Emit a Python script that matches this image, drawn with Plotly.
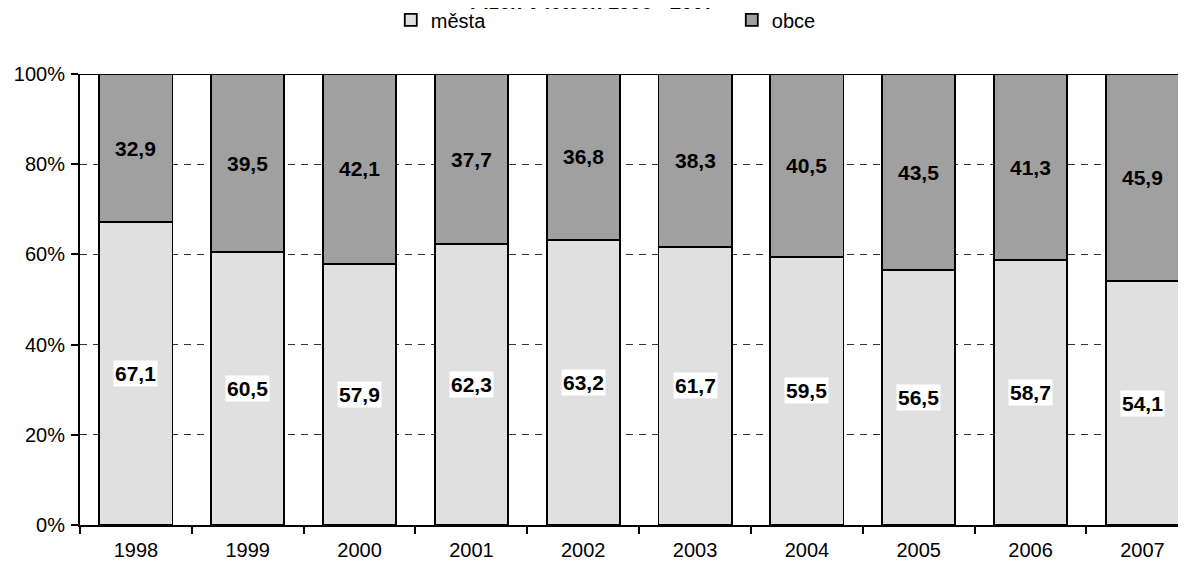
import plotly.graph_objects as go

years = ["1998", "1999", "2000", "2001", "2002", "2003", "2004", "2005", "2006", "2007"]
mesta = [67.1, 60.5, 57.9, 62.3, 63.2, 61.7, 59.5, 56.5, 58.7, 54.1]
obce = [32.9, 39.5, 42.1, 37.7, 36.8, 38.3, 40.5, 43.5, 41.3, 45.9]
y_ticks = [0, 20, 40, 60, 80, 100]
y_ticktext = ["0%", "20%", "40%", "60%", "80%", "100%"]
title_text = "Plzeň v letech 1998 - 2007"

FONT = "Liberation Sans, Arial, sans-serif"
xpos = list(range(len(years)))

fig = go.Figure()
fig.add_trace(go.Bar(
    x=xpos, y=mesta, name="města", width=0.655,
    marker=dict(color="#E0E0E0", line=dict(color="black", width=1.8)),
))
fig.add_trace(go.Bar(
    x=xpos, y=obce, name="obce", width=0.655,
    marker=dict(color="#A0A0A0", line=dict(color="black", width=1.8)),
))

annotations = []
for i, (m, o) in enumerate(zip(mesta, obce)):
    annotations.append(dict(
        x=i, y=m / 2, xref="x", yref="y", text=f"{m:.1f}".replace(".", ","),
        showarrow=False, bgcolor="white", borderpad=1,
        font=dict(family=FONT, size=21, color="black", weight="bold"),
    ))
    annotations.append(dict(
        x=i, y=m + o / 2, xref="x", yref="y", text=f"{o:.1f}".replace(".", ","),
        showarrow=False,
        font=dict(family=FONT, size=21, color="black", weight="bold"),
    ))
annotations.append(dict(
    x=0.463, y=1.13, xref="paper", yref="paper", xanchor="center", yanchor="bottom",
    text=title_text, showarrow=False,
    font=dict(family=FONT, size=20, color="black", weight="bold"),
))

fig.update_layout(
    barmode="stack",
    width=1178, height=557,
    margin=dict(l=72, r=0, t=66, b=40, autoexpand=False),
    paper_bgcolor="white", plot_bgcolor="white",
    font=dict(family=FONT, size=20, color="black"),
    showlegend=True,
    legend=dict(
        orientation="h", x=0.281, y=1.12, xanchor="left", yanchor="middle",
        entrywidth=296, entrywidthmode="pixels", traceorder="normal",
        font=dict(family=FONT, size=20, color="black"),
        itemclick=False, bgcolor="rgba(0,0,0,0)",
    ),
    annotations=annotations,
    shapes=[dict(type="line", xref="paper", yref="y", x0=0, x1=1, y0=100, y1=100,
                 line=dict(color="black", width=2), layer="above")],
    xaxis=dict(
        range=[-0.5, 9.39], tickmode="array", tickvals=xpos, ticktext=years,
        ticks="", showgrid=False, zeroline=False,
        showline=True, linecolor="black", linewidth=2,
        tickfont=dict(family=FONT, size=20, color="black"),
        ticklabelstandoff=6,
        minor=dict(tick0=-0.5, dtick=1, ticks="outside", ticklen=7,
                   tickcolor="black", tickwidth=1.5, showgrid=False),
        fixedrange=True,
    ),
    yaxis=dict(
        range=[0, 100], tickmode="array", tickvals=y_ticks, ticktext=y_ticktext,
        ticks="outside", ticklen=7, tickcolor="black", tickwidth=1.5,
        showgrid=True, gridcolor="#333333", gridwidth=1, griddash="7px,6px",
        zeroline=False, showline=True, linecolor="black", linewidth=2,
        tickfont=dict(family=FONT, size=20, color="black"),
        ticklabelstandoff=2,
        fixedrange=True,
    ),
)

fig.write_html("out.html")
